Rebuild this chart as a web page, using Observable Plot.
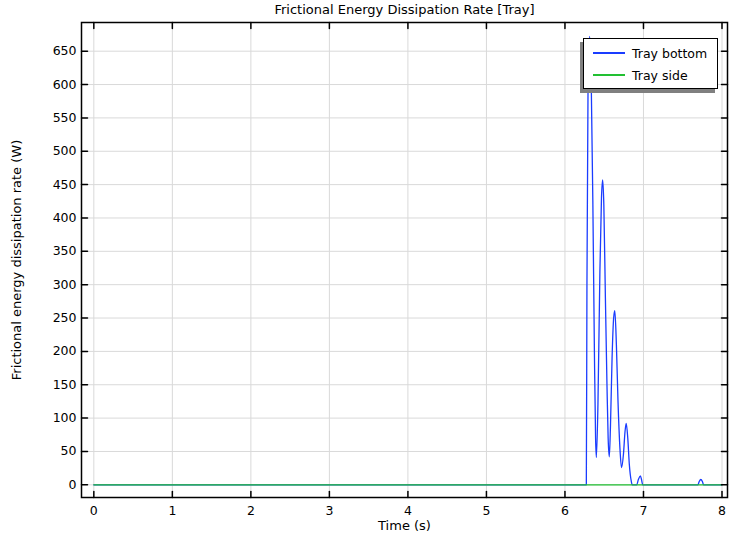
<!DOCTYPE html>
<html>
<head>
<meta charset="utf-8">
<script src="https://cdn.jsdelivr.net/npm/d3@7"></script>
<script src="https://cdn.jsdelivr.net/npm/@observablehq/plot@0.6"></script>
<style>
  body { margin: 0; background: #fff; }
  #wrap { position: relative; width: 729px; height: 534px; }
  #legend {
    position: absolute; left: 583px; top: 38px; width: 133px; height: 49px;
    background: #fff; border: 1.5px solid #000; box-shadow: -3px 4px 0 #808080;
    font-family: "DejaVu Sans", sans-serif; font-size: 12.5px; color: #000;
  }
  .item { position: absolute; left: 9px; height: 16px; display: flex; align-items: center; }
  .item span.sw { display: inline-block; width: 32px; height: 1.5px; margin-right: 7px; }
</style>
</head>
<body>
<div id="wrap"></div>
<script>
// ---- data ----
const title = "Frictional Energy Dissipation Rate [Tray]";
const xLabel = "Time (s)";
const yLabel = "Frictional energy dissipation rate (W)";
const seriesNames = ["Tray bottom", "Tray side"];
const seriesColors = ["#1a3cff", "#22c032"];
const xTicks = [0, 1, 2, 3, 4, 5, 6, 7, 8];
const yTicks = [0, 50, 100, 150, 200, 250, 300, 350, 400, 450, 500, 550, 600, 650];

const bottomTime = [0, 6.272, 6.28, 6.295, 6.315, 6.335, 6.355, 6.375, 6.39, 6.40,
  6.42, 6.445, 6.465, 6.48, 6.495, 6.515, 6.535, 6.55, 6.565,
  6.58, 6.60, 6.62, 6.635, 6.655, 6.675, 6.70, 6.72,
  6.745, 6.765, 6.78, 6.80, 6.82, 6.845, 6.857,
  6.914, 6.935, 6.96, 6.975, 6.99,
  7.693, 7.71, 7.731, 7.75, 7.766, 8];
const bottomValue = [0, 0, 300, 620, 672, 600, 426, 200, 70, 41,
  120, 320, 430, 457, 420, 280, 150, 70, 42,
  90, 190, 250, 261, 210, 127, 55, 26,
  46, 80, 92, 70, 30, 5, 0,
  0, 8, 13.5, 8, 0,
  0, 5, 8, 5, 0, 0];
const sideTime = [0, 8];
const sideValue = [0, 0];

// ---- build ----
const bottom = bottomTime.map((t, i) => ({t, v: bottomValue[i]}));
const side = sideTime.map((t, i) => ({t, v: sideValue[i]}));

const tickShape = {draw(ctx, l) { ctx.moveTo(0, 0); ctx.lineTo(0, -l); }};

const plot = Plot.plot({
  width: 729,
  height: 534,
  marginLeft: 81,
  marginRight: 2,
  marginTop: 22,
  marginBottom: 37,
  style: {fontFamily: "DejaVu Sans, sans-serif", fontSize: "12.5px", color: "#000", background: "#fff"},
  x: {domain: [-0.157, 8.07], ticks: xTicks},
  y: {domain: [-19, 693], ticks: yTicks},
  marks: [
    Plot.gridX(xTicks, {stroke: "#d9d9d9", strokeOpacity: 1}),
    Plot.gridY(yTicks, {stroke: "#d9d9d9", strokeOpacity: 1}),
    Plot.axisX(xTicks, {tickSize: 0, tickPadding: 9, label: null}),
    Plot.axisY(yTicks, {tickSize: 0, tickPadding: 5, label: null}),
    Plot.line(bottom, {x: "t", y: "v", stroke: seriesColors[0], strokeWidth: 1.3, curve: "monotone-x"}),
    Plot.line(side, {x: "t", y: "v", stroke: seriesColors[1], strokeWidth: 1.3}),
    Plot.vector(yTicks, {y: d => d, frameAnchor: "left", length: 6, rotate: 90, anchor: "start", shape: tickShape, stroke: "#000"}),
    Plot.vector(yTicks, {y: d => d, frameAnchor: "right", length: 6, rotate: -90, anchor: "start", shape: tickShape, stroke: "#000"}),
    Plot.vector(xTicks, {x: d => d, frameAnchor: "bottom", length: 6, rotate: 0, anchor: "start", shape: tickShape, stroke: "#000"}),
    Plot.vector(xTicks, {x: d => d, frameAnchor: "top", length: 6, rotate: 180, anchor: "start", shape: tickShape, stroke: "#000"}),
    Plot.frame({stroke: "#000", strokeWidth: 1.5}),
    Plot.text([title], {frameAnchor: "top", lineAnchor: "middle", textAnchor: "middle", dy: -13, fontSize: 13}),
    Plot.text([xLabel], {frameAnchor: "bottom", lineAnchor: "middle", textAnchor: "middle", dy: 28.5, fontSize: 13}),
    Plot.text([yLabel], {frameAnchor: "left", lineAnchor: "middle", textAnchor: "middle", dx: -65, rotate: -90, fontSize: 13})
  ]
});

const wrap = document.getElementById("wrap");
wrap.appendChild(plot);

const legend = document.createElement("div");
legend.id = "legend";
seriesNames.forEach((name, i) => {
  const it = document.createElement("div");
  it.className = "item";
  it.style.top = (6 + i * 22) + "px";
  const sw = document.createElement("span");
  sw.className = "sw";
  sw.style.backgroundColor = seriesColors[i];
  it.appendChild(sw);
  it.appendChild(document.createTextNode(name));
  legend.appendChild(it);
});
wrap.appendChild(legend);
</script>
</body>
</html>
